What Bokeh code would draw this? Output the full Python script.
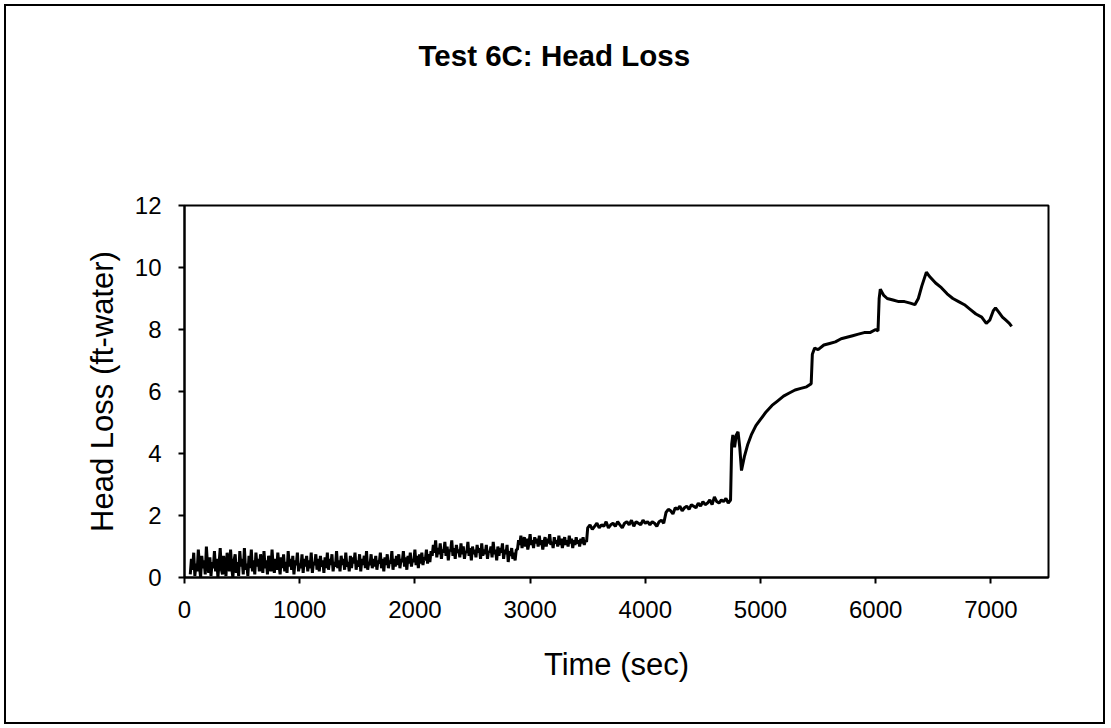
from bokeh.plotting import figure
from bokeh.models import Range1d, FixedTicker, Title
from bokeh.embed import file_html
from bokeh.resources import INLINE

# ---------------- data ----------------
title_text = "Test 6C: Head Loss"
x_label = "Time (sec)"
y_label = "Head Loss (ft-water)"
x_ticks = [0, 1000, 2000, 3000, 4000, 5000, 6000, 7000]
y_ticks = [0, 2, 4, 6, 8, 10, 12]

# noisy segments: (start time, step in seconds, values)
segA_start, segA_step = 50, 10
segA_vals = [0.1, 0.6, 0.25, 0.8, 0.05, 0.45, 0.2, 0.9, 0.35, 0.0, 0.7, 0.3, 0.55, 0.1, 1.0, 0.4, 0.15, 0.65, 0.05, 0.5,
             0.3, 0.85, 0.2, 0.6, 0.0, 0.45, 0.95, 0.25, 0.1, 0.7, 0.35, 0.05, 0.8, 0.4, 0.2, 0.9, 0.3, 0.0, 0.55, 0.75,
             0.15, 0.5, 0.05, 0.85, 0.35, 0.6, 0.1, 0.95, 0.25, 0.45, 0.05, 0.7, 0.3, 0.9, 0.2, 0.55, 0.1, 0.8, 0.35, 0.6,
             0.2, 0.75, 0.4, 0.15, 0.85, 0.3, 0.55, 0.1, 0.7, 0.45, 0.2, 0.9, 0.35, 0.15, 0.6, 0.25, 0.8, 0.4, 0.1, 0.65,
             0.3, 0.75, 0.2, 0.5, 0.15, 0.85, 0.35, 0.6, 0.25, 0.7, 0.1, 0.55, 0.4, 0.8, 0.2, 0.45, 0.3, 0.75, 0.15, 0.6,
             0.35, 0.7, 0.2, 0.55, 0.3, 0.8, 0.15, 0.5, 0.4, 0.75, 0.25, 0.6, 0.2, 0.7, 0.35, 0.55, 0.15, 0.65, 0.3, 0.8,
             0.25, 0.6, 0.4, 0.75, 0.2, 0.5, 0.35, 0.85, 0.3, 0.55, 0.2, 0.7, 0.4, 0.6, 0.25, 0.8, 0.35, 0.5, 0.2, 0.7,
             0.3, 0.65, 0.45, 0.8, 0.25, 0.55, 0.35, 0.75, 0.2, 0.6, 0.4, 0.7, 0.3, 0.85, 0.25, 0.5, 0.4, 0.75, 0.3, 0.6,
             0.35, 0.7, 0.25, 0.55, 0.45, 0.8, 0.3, 0.6, 0.2, 0.65, 0.4, 0.75, 0.3, 0.55, 0.45, 0.85, 0.25, 0.6, 0.35, 0.7,
             0.4, 0.75, 0.3, 0.6, 0.5, 0.85, 0.35, 0.65, 0.25, 0.7, 0.45, 0.8, 0.35, 0.6, 0.5, 0.9, 0.4, 0.7, 0.3, 0.75,
             0.45, 0.8, 0.4, 0.65, 0.55, 0.9, 0.45, 0.75, 0.5, 0.85]

segB_start, segB_step = 2150, 10
segB_vals = [0.7, 1.05, 0.8, 1.2, 0.65, 0.95, 0.75, 1.1, 0.6, 0.9,
             0.8, 1.15, 0.7, 1.0, 0.55, 0.9, 0.85, 1.2, 0.7, 0.95,
             0.6, 1.05, 0.8, 0.9, 0.65, 1.1, 0.75, 1.0, 0.6, 0.85,
             0.8, 1.15, 0.7, 0.95, 0.55, 1.0, 0.75, 0.9, 0.65, 1.05,
             0.8, 0.95, 0.6, 1.1, 0.7, 0.9, 0.75, 1.05, 0.6, 0.85,
             0.8, 1.0, 0.65, 1.15, 0.75, 0.9, 0.55, 1.0, 0.7, 0.95,
             0.8, 1.1, 0.6, 0.9, 0.75, 1.05, 0.5, 0.85, 0.7, 0.95,
             0.6, 0.8, 0.55, 0.9]

segC_start, segC_step = 2890, 10
segC_vals = [0.9, 1.2, 1.05, 1.35, 0.95, 1.15, 1.3, 1.0, 1.25, 0.9,
             1.1, 1.4, 1.05, 1.2, 0.95, 1.3, 1.1, 1.25, 1.0, 1.35,
             1.05, 1.2, 0.9, 1.15, 1.3, 1.0, 1.25, 1.1, 1.4, 1.05,
             1.15, 0.95, 1.3, 1.1, 1.2, 1.0, 1.35, 1.05, 1.25, 0.95,
             1.15, 1.3, 1.05, 1.2, 1.0, 1.35, 1.1, 1.25, 0.95, 1.2,
             1.05, 1.3, 1.1, 1.2, 1.0, 1.25, 1.1, 1.3, 1.05, 1.2, 1.15]

segD_start, segD_step = 3500, 20
segD_vals = [1.6, 1.7, 1.55, 1.65, 1.75, 1.6, 1.7, 1.65, 1.8, 1.6, 1.7, 1.75, 1.65, 1.8,
             1.7, 1.6, 1.75, 1.8, 1.7, 1.85, 1.65, 1.8, 1.75, 1.7, 1.85, 1.75, 1.8,
             1.7, 1.8, 1.75, 1.65, 1.8, 1.85, 1.75]

segE_start, segE_step = 4180, 20
segE_vals = [2.1, 2.2, 2.15, 2.05, 2.25, 2.2, 2.3, 2.15, 2.25, 2.3, 2.2, 2.35, 2.3, 2.25,
             2.4, 2.3, 2.45, 2.35, 2.4, 2.5, 2.35, 2.6, 2.45, 2.4, 2.5, 2.45, 2.55, 2.4, 2.5]

# smoother later part: explicit times and values
segF_t = [4750, 4760, 4775, 4790, 4805, 4820, 4835, 4860, 4890, 4920, 4960, 5000, 5050,
          5100, 5150, 5200, 5250, 5300, 5350, 5400, 5440]
segF_v = [4.3, 4.6, 4.2, 4.6, 4.7, 4.2, 3.45, 3.9, 4.3, 4.6, 4.9, 5.1, 5.35,
          5.55, 5.7, 5.85, 5.95, 6.05, 6.1, 6.15, 6.25]

segG_t = [5450, 5470, 5500, 5550, 5600, 5650, 5700, 5750, 5800, 5850, 5900, 5950, 6000, 6020]
segG_v = [7.2, 7.4, 7.35, 7.5, 7.55, 7.6, 7.7, 7.75, 7.8, 7.85, 7.9, 7.9, 8.0, 7.95]

segH_t = [6030, 6040, 6070, 6100, 6150, 6200, 6250, 6300, 6340, 6370, 6400, 6440, 6470,
          6520, 6570, 6620, 6670, 6720, 6770, 6820, 6870, 6920, 6960, 6990, 7020, 7040,
          7070, 7100, 7130, 7160, 7180]
segH_v = [9.0, 9.3, 9.1, 9.0, 8.95, 8.9, 8.9, 8.85, 8.8, 9.0, 9.4, 9.85, 9.7,
          9.5, 9.35, 9.15, 9.0, 8.9, 8.8, 8.65, 8.5, 8.4, 8.2, 8.3, 8.6, 8.7,
          8.55, 8.4, 8.3, 8.2, 8.1]

# ---------------- assemble series ----------------
times, heads = [], []
for start, step, vals in [(segA_start, segA_step, segA_vals),
                          (segB_start, segB_step, segB_vals),
                          (segC_start, segC_step, segC_vals),
                          (segD_start, segD_step, segD_vals),
                          (segE_start, segE_step, segE_vals)]:
    times += [start + i * step for i in range(len(vals))]
    heads += vals
for ts, vs in [(segF_t, segF_v), (segG_t, segG_v), (segH_t, segH_v)]:
    times += ts
    heads += vs

FONT = "Liberation Sans"

p = figure(width=1101, height=720, output_backend="svg", toolbar_location=None,
           x_range=Range1d(0, 7500), y_range=Range1d(0, 12),
           min_border_left=178, min_border_right=59, min_border_top=199, min_border_bottom=149)
p.title = None
p.styles = {"border": "2px solid black", "margin-left": "4px", "margin-top": "4px"}
p.background_fill_color = "white"
p.border_fill_color = "white"
p.outline_line_color = "black"
p.outline_line_width = 2
p.grid.visible = False

p.line(times, heads, line_color="black", line_width=3)

for ax in (p.xaxis[0], p.yaxis[0]):
    ax.axis_line_color = "black"
    ax.axis_line_width = 2
    ax.major_tick_line_color = "black"
    ax.major_tick_line_width = 2
    ax.major_tick_out = 6
    ax.major_tick_in = 0
    ax.minor_tick_line_color = None
    ax.major_label_text_font = FONT
    ax.major_label_text_font_size = "24px"
    ax.major_label_text_color = "black"
    ax.axis_label_text_font = FONT
    ax.axis_label_text_font_size = "31px"
    ax.axis_label_text_font_style = "normal"
    ax.axis_label_text_color = "black"
    ax.major_label_standoff = 17

p.xaxis[0].ticker = FixedTicker(ticks=x_ticks)
p.yaxis[0].ticker = FixedTicker(ticks=y_ticks)
p.xaxis[0].axis_label = x_label
p.yaxis[0].axis_label = y_label
p.xaxis[0].axis_label_standoff = 26
p.yaxis[0].axis_label_standoff = 12

# blank spacer title next to the frame, then the real title above it
p.add_layout(Title(text=" ", text_font=FONT, text_font_size="10px", standoff=116), "above")
p.add_layout(Title(text=title_text, align="left", offset=234, text_font=FONT,
                   text_font_size="29.5px", text_font_style="bold", text_color="black"),
             "above")

open("out.html", "w").write(file_html(p, INLINE))
